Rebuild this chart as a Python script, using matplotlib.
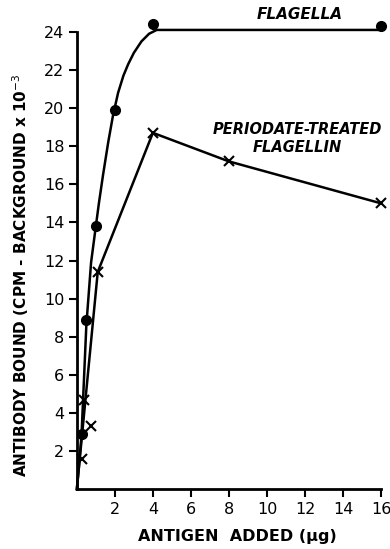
from matplotlib import pyplot as plt

# flagella (filled dots)
flag_x = [0.25, 0.5, 1, 2, 4, 16]
flag_y = [2.9, 8.9, 13.8, 19.9, 24.4, 24.3]
# hand drawn curve through the flagella points
curve_x = [0, 0.12, 0.25, 0.5, 0.75, 1, 1.16, 1.38, 1.65, 1.9, 2.17, 2.45, 2.7,
           3.0, 3.4, 3.8, 4.2, 16]
curve_y = [0, 1.3, 2.9, 8.6, 11.9, 13.8, 15.0, 16.5, 18.2, 19.6, 20.8, 21.7, 22.3,
           22.9, 23.5, 23.9, 24.1, 24.1]

# periodate-treated flagellin (crosses)
per_x = [0.25, 0.4, 0.75, 1.1, 4, 8, 16]
per_y = [1.6, 4.7, 3.3, 11.4, 18.7, 17.2, 15.0]
per_line_x = [0, 1.1, 4, 8, 16]
per_line_y = [0, 11.4, 18.7, 17.2, 15.0]

xticks = [2, 4, 6, 8, 10, 12, 14, 16]
yticks = [2, 4, 6, 8, 10, 12, 14, 16, 18, 20, 22, 24]

fig = plt.figure(figsize=(3.9, 5.49), dpi=100)
ax = fig.add_axes([0.197, 0.109, 0.78, 0.833])

ax.plot(curve_x, curve_y, color='black', lw=1.8, clip_on=False)
ax.plot(flag_x, flag_y, 'o', color='black', ms=7, clip_on=False, zorder=3)

ax.plot(per_line_x, per_line_y, color='black', lw=1.8, clip_on=False)
ax.plot(per_x, per_y, 'x', color='black', ms=6.5, mew=1.5, clip_on=False, zorder=3)

ax.set_xlim(0, 16)
ax.set_ylim(0, 24)
ax.set_xticks(xticks)
ax.set_yticks(yticks)
ax.spines['top'].set_visible(False)
ax.spines['right'].set_visible(False)
ax.spines['left'].set_linewidth(2)
ax.spines['bottom'].set_linewidth(2)
ax.tick_params(direction='out', length=6, width=1.5, labelsize=11.5, pad=3)

fig.text(0.608, 0.022, 'ANTIGEN  ADDED (\u00b5g)', fontsize=11.5, fontweight='bold',
         ha='center', va='center')
fig.text(0.054, 0.499, 'ANTIBODY BOUND (CPM - BACKGROUND x 10$^{-3}$', fontsize=11,
         fontweight='bold', rotation=90, ha='center', va='center')

ax.text(11.7, 24.9, 'FLAGELLA', fontsize=11, fontweight='bold', style='italic',
        ha='center', va='center')
ax.text(11.6, 18.4, 'PERIODATE-TREATED\nFLAGELLIN', fontsize=10.5, fontweight='bold',
        style='italic', ha='center', va='center', linespacing=1.25)

plt.savefig('out.png', dpi=100)
